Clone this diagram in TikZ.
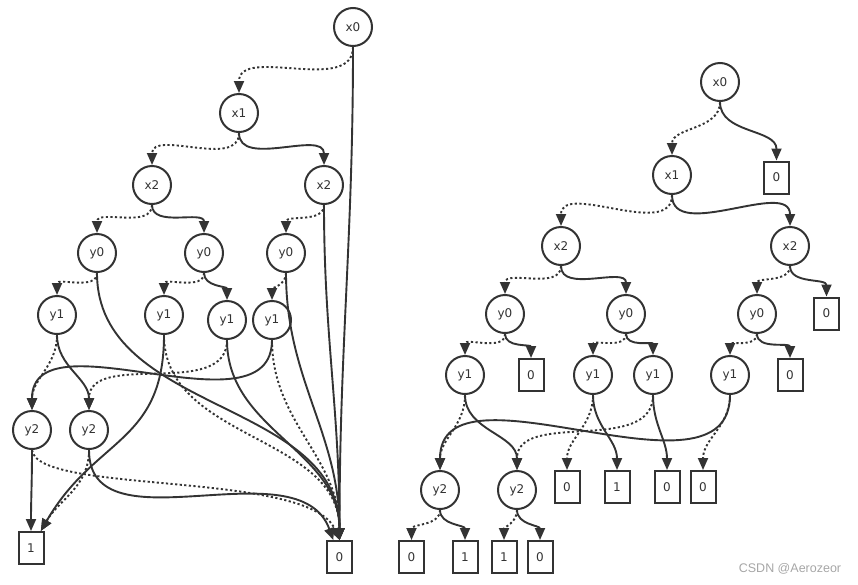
\documentclass[tikz,border=0pt]{standalone}
\usepackage{fontspec}
\setmainfont{DejaVu Sans}
\newfontfamily\markfont{Liberation Sans}
\usetikzlibrary{arrows.meta}
\tikzset{
  bdd/.style={circle,draw=black!80,line width=2pt,minimum size=38pt,inner sep=0pt,text=black!80,font=\fontsize{12}{12}\selectfont},
  leaf/.style={rectangle,draw=black!80,line width=2pt,minimum width=25pt,minimum height=32pt,inner sep=0pt,text=black!80,font=\fontsize{12}{12}\selectfont},
  hi/.style={draw=black!80,line width=1.9pt,-{Triangle[length=12pt,width=10pt]}},
  lo/.style={hi,dash pattern=on 2.2pt off 2.4pt},
}
\begin{document}
\begin{tikzpicture}[x=1pt,y=-1pt]
\useasboundingbox (0,0) rectangle (858,584);
% left diagram
\node[bdd] (lx0) at (353,27) {x0};
\node[bdd] (lx1) at (239,113) {x1};
\node[bdd] (lx2a) at (152,185) {x2};
\node[bdd] (lx2b) at (324,185) {x2};
\node[bdd] (ly0a) at (97,253) {y0};
\node[bdd] (ly0b) at (204,253) {y0};
\node[bdd] (ly0c) at (286,253) {y0};
\node[bdd] (ly1a) at (57,315) {y1};
\node[bdd] (ly1b) at (164,315) {y1};
\node[bdd] (ly1c) at (227,320) {y1};
\node[bdd] (ly1d) at (272,320) {y1};
\node[bdd] (ly2a) at (32,430) {y2};
\node[bdd] (ly2b) at (89,430) {y2};
\node[leaf] (lone) at (31,548) {1};
\node[leaf] (lzero) at (339.5,557) {0};
\foreach \a/\b in {lx0/lx1,lx1/lx2a,lx2a/ly0a,lx2b/ly0c,ly0a/ly1a,ly0b/ly1b,ly0c/ly1d,ly1a/ly2a,ly1c/ly2b,ly1b/lzero,ly1d/lzero}
  \draw[lo] (\a) to[out=-90,in=90] (\b);
\foreach \a/\b in {lx0/lzero,lx1/lx2b,lx2a/ly0b,lx2b/lzero,ly0a/lzero,ly0b/ly1c,ly0c/lzero,ly1a/ly2b,ly1c/lzero,ly1d/ly2a,ly2a/lone}
  \draw[hi] (\a) to[out=-90,in=90] (\b);
\draw[hi] (ly1b) to[out=-90,in=60,looseness=1.2] (lone);
\draw[lo] (ly2b) to[out=-90,in=60] (lone);
\draw[lo] (ly2a.south) .. controls +(5,45) and +(-30,-70) .. (lzero.north);
\draw[hi] (ly2b) to[out=-90,in=110] (lzero);
% right diagram
\node[bdd] (rx0) at (720,82) {x0};
\node[bdd] (rx1) at (672,175) {x1};
\node[leaf] (rz0) at (776.5,177.5) {0};
\node[bdd] (rx2a) at (561,246) {x2};
\node[bdd] (rx2b) at (790,246) {x2};
\node[bdd] (ry0a) at (505,314) {y0};
\node[bdd] (ry0b) at (626,314) {y0};
\node[bdd] (ry0c) at (757,314) {y0};
\node[leaf] (rz1) at (826.5,313.5) {0};
\node[bdd] (ry1a) at (465,375) {y1};
\node[leaf] (rz2) at (531,375) {0};
\node[bdd] (ry1b) at (593,375) {y1};
\node[bdd] (ry1c) at (653,375) {y1};
\node[bdd] (ry1d) at (730,375) {y1};
\node[leaf] (rz3) at (790,375) {0};
\node[bdd] (ry2a) at (440,490) {y2};
\node[bdd] (ry2b) at (517,490) {y2};
\node[leaf] (rt0a) at (567,487) {0};
\node[leaf] (rt1a) at (617,487) {1};
\node[leaf] (rt0b) at (667,487) {0};
\node[leaf] (rt0c) at (703,487) {0};
\node[leaf] (rb0a) at (411.5,557) {0};
\node[leaf] (rb1a) at (465,557) {1};
\node[leaf] (rb1b) at (504,557) {1};
\node[leaf] (rb0b) at (540,557) {0};
\foreach \a/\b in {rx0/rx1,rx1/rx2a,rx2a/ry0a,rx2b/ry0c,ry0a/ry1a,ry0b/ry1b,ry0c/ry1d,ry1a/ry2a,ry1b/rt0a,ry1c/ry2b,ry1d/rt0c,ry2a/rb0a,ry2b/rb1b}
  \draw[lo] (\a) to[out=-90,in=90] (\b);
\foreach \a/\b in {rx0/rz0,rx1/rx2b,rx2a/ry0b,rx2b/rz1,ry0a/rz2,ry0b/ry1c,ry0c/rz3,ry1a/ry2b,ry1b/rt1a,ry1c/rt0b,ry1d/ry2a,ry2a/rb1a,ry2b/rb0b}
  \draw[hi] (\a) to[out=-90,in=90] (\b);
\node[text=black!35,font=\markfont\fontsize{12.5}{12.5}\selectfont] (mark) at (790,569) {CSDN @Aerozeor};
\end{tikzpicture}
\end{document}
